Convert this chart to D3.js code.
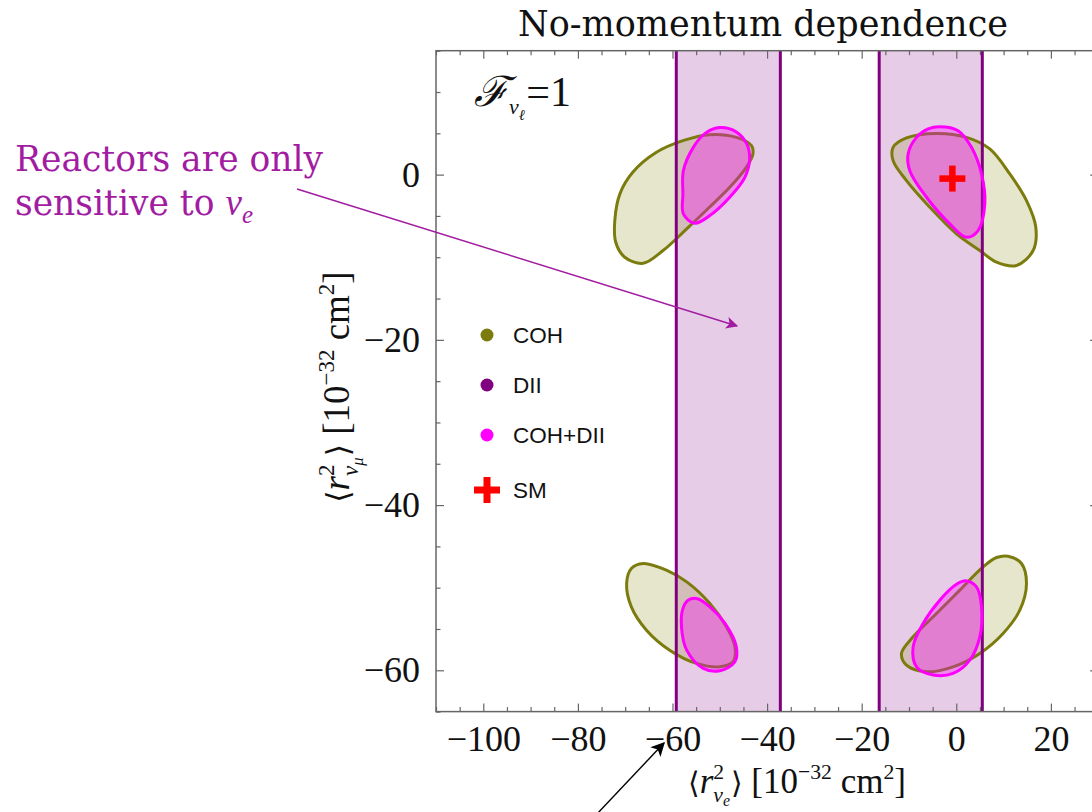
<!DOCTYPE html>
<html>
<head>
<meta charset="utf-8">
<script src="https://cdn.jsdelivr.net/npm/d3@7"></script>
<style>
  body { margin: 0; background: #fff; }
  svg { display: block; }
</style>
</head>
<body>
<svg id="chart" width="1092" height="812"></svg>
<script>
// ---- data (10^-32 cm^2) ----
const xTicks = [-100, -80, -60, -40, -20, 0, 20];
const yTicks = [-60, -40, -20, 0];
const xDomain = [-110, 30];
const yDomain = [-65, 15];

// reactor (nu_e only) allowed strips on <r^2_nu_e>
const reactorBands = [[-59.2, -37.2], [-16.3, 5.5]];

// COH allowed regions (contour points)
const cohTopLeft = [[-72.2,-5.56],[-71.1,-2.30],[-68.4,0.28],[-63.4,2.70],[-57.8,4.11],[-52.2,4.84],[-46.5,4.51],[-43.3,3.51],[-43.0,2.50],[-44.4,0.88],[-47.9,-1.54],[-52.2,-3.95],[-57.0,-6.57],[-62.0,-9.19],[-66.2,-10.73],[-70.1,-10.0],[-72.0,-8.19]];
const cohTopRight = [[-13.36,3.30],[-10.53,4.44],[-4.19,4.99],[2.16,4.51],[7.08,3.11],[11.31,0.08],[14.84,-3.14],[16.81,-6.37],[16.24,-9.19],[12.73,-11.0],[8.50,-10.6],[4.97,-9.19],[0.04,-7.17],[-5.60,-3.95],[-10.53,-0.73],[-13.36,1.69]];
const cohBottomLeft = [[-66.2,-47.07],[-61.3,-47.88],[-57.0,-49.30],[-52.1,-51.91],[-48.6,-54.74],[-46.8,-57.16],[-47.2,-58.97],[-50.0,-59.58],[-54.9,-59.17],[-60.6,-57.56],[-65.5,-55.14],[-68.7,-52.32],[-69.7,-49.49],[-68.7,-47.68]];
const cohBottomRight = [[10.95,-46.19],[13.78,-47.07],[14.84,-49.49],[13.42,-52.72],[9.89,-55.54],[4.97,-57.96],[-0.68,-59.58],[-6.30,-60.18],[-10.53,-59.37],[-11.59,-57.96],[-9.13,-55.95],[-4.19,-53.12],[0.74,-50.30],[5.67,-47.48],[8.50,-46.35]];

// COH+DII allowed regions
const comboTopLeft = [[-50.0,5.69],[-46.5,5.16],[-44.3,3.71],[-43.7,1.89],[-44.7,-0.33],[-47.9,-2.74],[-52.1,-4.96],[-55.3,-5.89],[-57.7,-4.75],[-57.8,-2.34],[-57.7,0.48],[-55.6,3.30],[-53.1,4.99]];
const comboTopRight = [[-3.49,5.80],[0.38,5.32],[3.21,3.30],[5.33,0.08],[6.03,-3.54],[4.61,-6.77],[2.16,-7.58],[-1.37,-5.96],[-6.30,-2.74],[-9.83,0.48],[-10.19,2.50],[-8.41,4.51],[-5.96,5.53]];
const comboBottomLeft = [[-54.9,-51.31],[-52.1,-52.32],[-48.9,-54.33],[-46.5,-57.16],[-46.8,-58.97],[-50.0,-60.06],[-53.5,-59.77],[-57.0,-57.56],[-58.1,-54.74],[-57.8,-52.52],[-56.7,-51.51]];
const comboBottomRight = [[2.16,-49.18],[4.27,-49.90],[5.33,-52.32],[4.97,-55.95],[2.85,-58.77],[-0.68,-60.38],[-4.90,-60.58],[-8.41,-59.58],[-9.13,-57.16],[-7.02,-54.33],[-3.49,-51.51],[0.04,-49.58]];

const cohRegions = [cohTopLeft, cohTopRight, cohBottomLeft, cohBottomRight];
const comboRegions = [comboTopLeft, comboTopRight, comboBottomLeft, comboBottomRight];

// Standard Model point
const smPoint = [-0.83, -0.48];

const legendLabels = ["COH", "DII", "COH+DII", "SM"];

// ---- styles ----
const C = {
  cohStroke: "#7c7c0e", cohFill: "rgba(128,128,0,0.2)",
  bandStroke: "#800080", bandFill: "rgba(128,0,128,0.2)",
  comboStroke: "#ff00ff", comboFill: "rgba(255,0,255,0.33)",
  sm: "#ff0000", frame: "#666", note: "#a21ca2"
};
const SERIF = "'Liberation Serif','Times New Roman',serif";
const SLAB = "'DejaVu Serif',serif";
const SANS = "'Liberation Sans',Arial,sans-serif";

const svg = d3.select("#chart");
const defs = svg.append("defs");
const x = d3.scaleLinear().domain(xDomain).range([436, 1098.2]);
const y = d3.scaleLinear().domain(yDomain).range([711.6, 50.7]);

defs.append("clipPath").attr("id", "plotClip")
  .append("rect").attr("x", x(xDomain[0])).attr("y", y(yDomain[1]))
  .attr("width", x(xDomain[1]) - x(xDomain[0])).attr("height", y(yDomain[0]) - y(yDomain[1]));
const plot = svg.append("g").attr("clip-path", "url(#plotClip)");

// reactor bands
plot.selectAll("rect.band").data(reactorBands).join("rect")
  .attr("class", "band")
  .attr("x", d => x(d[0])).attr("width", d => x(d[1]) - x(d[0]))
  .attr("y", y(yDomain[1])).attr("height", y(yDomain[0]) - y(yDomain[1]))
  .attr("fill", C.bandFill);

const contour = d3.line().x(d => x(d[0])).y(d => y(d[1])).curve(d3.curveCatmullRomClosed.alpha(0.5));

plot.selectAll("path.coh").data(cohRegions).join("path")
  .attr("class", "coh").attr("d", contour)
  .attr("fill", C.cohFill).attr("stroke", C.cohStroke).attr("stroke-width", 3);

// band edges
const edges = reactorBands.flat();
plot.selectAll("line.edge").data(edges).join("line")
  .attr("class", "edge")
  .attr("x1", d => x(d)).attr("x2", d => x(d))
  .attr("y1", y(yDomain[1])).attr("y2", y(yDomain[0]))
  .attr("stroke", C.bandStroke).attr("stroke-width", 3);

plot.selectAll("path.combo").data(comboRegions).join("path")
  .attr("class", "combo").attr("d", contour)
  .attr("fill", C.comboFill).attr("stroke", C.comboStroke).attr("stroke-width", 3);

// SM cross
function cross(g, cx, cy, s, t, color) {
  g.append("rect").attr("x", cx - s / 2).attr("y", cy - t / 2).attr("width", s).attr("height", t).attr("fill", color);
  g.append("rect").attr("x", cx - t / 2).attr("y", cy - s / 2).attr("width", t).attr("height", s).attr("fill", color);
}
cross(plot, x(smPoint[0]), y(smPoint[1]), 26, 6.5, C.sm);

// ---- frame and ticks ----
const fr = svg.append("g");
fr.append("rect")
  .attr("x", x(xDomain[0])).attr("y", y(yDomain[1]))
  .attr("width", x(xDomain[1]) - x(xDomain[0])).attr("height", y(yDomain[0]) - y(yDomain[1]))
  .attr("fill", "none").attr("stroke", C.frame).attr("stroke-width", 1.5);

const xMinor = d3.range(xDomain[0], xDomain[1] + 0.1, 5).filter(v => !xTicks.includes(v));
const yMinor = d3.range(yDomain[0], yDomain[1] + 0.1, 5).filter(v => !yTicks.includes(v));

function styleAxis(g) {
  g.select(".domain").remove();
  g.selectAll(".tick line").attr("stroke", C.frame).attr("stroke-width", 1.2);
}
const fmt = d => d < 0 ? "\u2212" + Math.abs(d) : String(d);

// bottom
fr.append("g").attr("transform", `translate(0,${y(yDomain[0])})`)
  .call(d3.axisBottom(x).tickValues(xTicks).tickSize(-8).tickPadding(14).tickFormat(fmt))
  .call(styleAxis)
  .call(g => g.selectAll("text").attr("font-family", SERIF).attr("font-size", 36).attr("fill", "#111"));
fr.append("g").attr("transform", `translate(0,${y(yDomain[0])})`)
  .call(d3.axisBottom(x).tickValues(xMinor).tickSize(-4.5).tickFormat(""))
  .call(styleAxis);
// top
fr.append("g").attr("transform", `translate(0,${y(yDomain[1])})`)
  .call(d3.axisTop(x).tickValues(xTicks).tickSize(-8).tickFormat(""))
  .call(styleAxis);
fr.append("g").attr("transform", `translate(0,${y(yDomain[1])})`)
  .call(d3.axisTop(x).tickValues(xMinor).tickSize(-4.5).tickFormat(""))
  .call(styleAxis);
// left
fr.append("g").attr("transform", `translate(${x(xDomain[0])},0)`)
  .call(d3.axisLeft(y).tickValues(yTicks).tickSize(-8).tickPadding(16).tickFormat(fmt))
  .call(styleAxis)
  .call(g => g.selectAll("text").attr("font-family", SERIF).attr("font-size", 36).attr("fill", "#111"));
fr.append("g").attr("transform", `translate(${x(xDomain[0])},0)`)
  .call(d3.axisLeft(y).tickValues(yMinor).tickSize(-4.5).tickFormat(""))
  .call(styleAxis);
// right
fr.append("g").attr("transform", `translate(${x(xDomain[1])},0)`)
  .call(d3.axisRight(y).tickValues(yTicks).tickSize(-8).tickFormat(""))
  .call(styleAxis);
fr.append("g").attr("transform", `translate(${x(xDomain[1])},0)`)
  .call(d3.axisRight(y).tickValues(yMinor).tickSize(-4.5).tickFormat(""))
  .call(styleAxis);

// ---- rich text helper: segments with baseline offsets in em ----
function rich(parent, segs, base, family) {
  const t = parent.append("text").attr("font-family", family).attr("font-size", base).attr("fill", "#111");
  let cur = 0;
  segs.forEach(s => {
    const off = (s.off || 0) * base;
    const sp = t.append("tspan").text(s.t).attr("dy", off - cur);
    if (s.size) sp.attr("font-size", s.size * base);
    if (s.it) sp.attr("font-style", "italic");
    if (s.dx) sp.attr("dx", s.dx * base);
    if (s.family) sp.attr("font-family", s.family);
    cur = off;
  });
  return t;
}
function axisLabelSegs(flavour) {
  return [
    { t: "\u27E8", family: "'DejaVu Serif',serif", size: 0.85 },
    { t: "r", it: true },
    { t: "2", size: 0.62, off: -0.41 },
    { t: "\u03BD", it: true, size: 0.62, off: 0.25, dx: -0.31 },
    { t: flavour, it: true, size: 0.45, off: 0.38 },
    { t: "\u27E9", family: "'DejaVu Serif',serif", size: 0.85, off: 0, dx: 0.03 },
    { t: " [10", off: 0 },
    { t: "\u221232", size: 0.62, off: -0.41 },
    { t: " cm", off: 0 },
    { t: "2", size: 0.62, off: -0.41 },
    { t: "]", off: 0 }
  ];
}

// x label
rich(svg.append("g").attr("transform", "translate(797,793)"), axisLabelSegs("e"), 35, SERIF)
  .attr("text-anchor", "middle");
// y label
rich(svg.append("g").attr("transform", "translate(349,387) rotate(-90)"), axisLabelSegs("\u03BC"), 37, SERIF)
  .attr("text-anchor", "middle");

// F_{nu_l} = 1
rich(svg.append("g").attr("transform", "translate(474,106)"), [
  { t: "\u2131", family: "'DejaVu Serif',serif", it: true },
  { t: "\u03BD", it: true, size: 0.52, off: 0.2 },
  { t: "\u2113", it: true, size: 0.36, off: 0.33 },
  { t: "=1", off: 0, dx: 0.03 }
], 42, SERIF);

// title
svg.append("text").attr("x", 763).attr("y", 36).attr("text-anchor", "middle")
  .attr("font-family", SLAB).attr("font-size", 35).attr("fill", "#111")
  .text("No-momentum dependence");

// ---- legend ----
const lg = svg.append("g");
const legendColors = [C.cohStroke, C.bandStroke, C.comboStroke, C.sm];
legendLabels.forEach((lab, i) => {
  const cy = 335 + i * 50 + (i === 3 ? 5 : 0);
  if (i < 3) lg.append("circle").attr("cx", 487).attr("cy", cy).attr("r", 6.5).attr("fill", legendColors[i]);
  else cross(lg, 487, cy, 26, 7, C.sm);
  lg.append("text").attr("x", 513).attr("y", cy + 8).attr("font-family", SANS).attr("font-size", 22.5)
    .attr("fill", "#111").text(lab);
});

// ---- annotations ----
function marker(id, color, w, h) {
  defs.append("marker").attr("id", id).attr("viewBox", "0 0 10 10").attr("refX", 9).attr("refY", 5)
    .attr("markerUnits", "userSpaceOnUse").attr("markerWidth", w).attr("markerHeight", h).attr("orient", "auto")
    .append("path").attr("d", "M0,0 L10,5 L0,10 L2.5,5 Z").attr("fill", color);
}
marker("arrMag", C.note, 18, 12);
marker("arrBlk", "#000", 20, 14);

svg.append("line").attr("x1", 297).attr("y1", 189).attr("x2", 737).attr("y2", 326)
  .attr("stroke", C.note).attr("stroke-width", 1.4).attr("marker-end", "url(#arrMag)");
svg.append("line").attr("x1", 596).attr("y1", 815).attr("x2", 664).attr("y2", 743)
  .attr("stroke", "#000").attr("stroke-width", 1.4).attr("marker-end", "url(#arrBlk)");

const note = svg.append("text").attr("font-family", SLAB).attr("font-size", 34.5).attr("fill", C.note);
note.append("tspan").attr("x", 15).attr("y", 171).text("Reactors are only");
note.append("tspan").attr("x", 15).attr("y", 215).text("sensitive to ");
note.append("tspan").attr("font-family", SERIF).attr("font-style", "italic").attr("font-size", 37).text("\u03BD");
note.append("tspan").attr("font-family", SERIF).attr("font-style", "italic").attr("font-size", 25).attr("dy", 8).text("e");
</script>
</body>
</html>
